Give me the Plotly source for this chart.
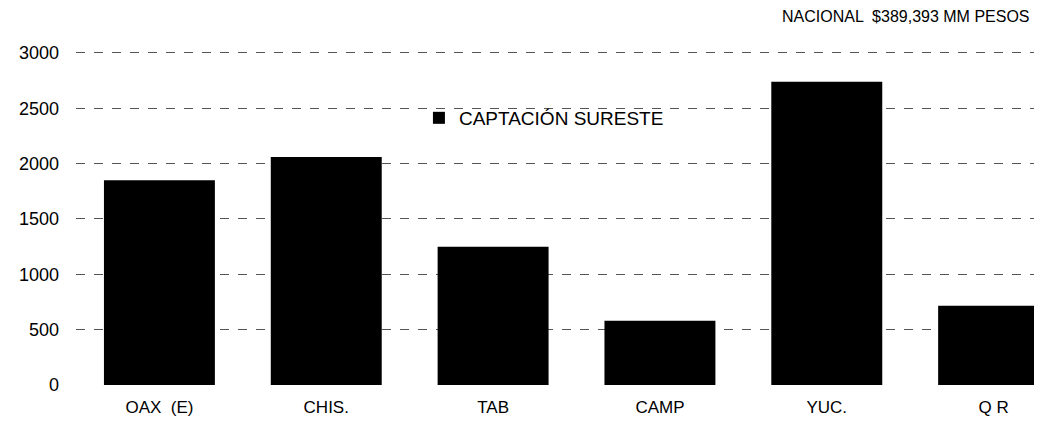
import plotly.graph_objects as go

categories = ["OAX  (E)", "CHIS.", "TAB", "CAMP", "YUC.", "Q R"]
captacion = [1850, 2060, 1250, 580, 2740, 715]
y_ticks = [0, 500, 1000, 1500, 2000, 2500, 3000]
series_name = "CAPTACIÓN SURESTE"
note = "NACIONAL  $389,393 MM PESOS"

FONT = "Liberation Sans, Arial, sans-serif"

fig = go.Figure()
fig.add_trace(go.Bar(
    x=list(range(len(categories))),
    y=captacion,
    name=series_name,
    marker=dict(color="black", line=dict(width=0)),
    width=0.665,
    showlegend=True,
))

# page body has an 8px margin, so the figure is sized 8px smaller
fig.update_layout(
    width=1034, height=415,
    margin=dict(l=68, r=0, t=32, b=38),
    paper_bgcolor="white", plot_bgcolor="white",
    font=dict(family=FONT, color="black", size=16),
    showlegend=True,
    legend=dict(
        x=0.355, y=0.774, xanchor="left", yanchor="middle",
        bgcolor="rgba(0,0,0,0)", borderwidth=0,
        font=dict(size=19, family=FONT, color="black"),
    ),
    xaxis=dict(
        tickmode="array",
        tickvals=list(range(len(categories))),
        ticktext=categories,
        range=[-0.5, 5.29],
        showgrid=False, zeroline=False, showline=False,
        ticks="", ticklabelstandoff=10,
        tickfont=dict(size=17),
    ),
    yaxis=dict(
        range=[0, 3117],
        tickmode="array", tickvals=y_ticks,
        showgrid=True, gridcolor="#555555", gridwidth=1, griddash="dash",
        zeroline=False, showline=False,
        ticks="", ticklabelstandoff=16,
        tickfont=dict(size=18),
    ),
    annotations=[dict(
        text=note, xref="paper", yref="paper",
        x=0.9896, y=1.067, xanchor="right", yanchor="middle",
        showarrow=False, font=dict(size=16, family=FONT, color="black"),
    )],
)

fig.write_html("out.html")
